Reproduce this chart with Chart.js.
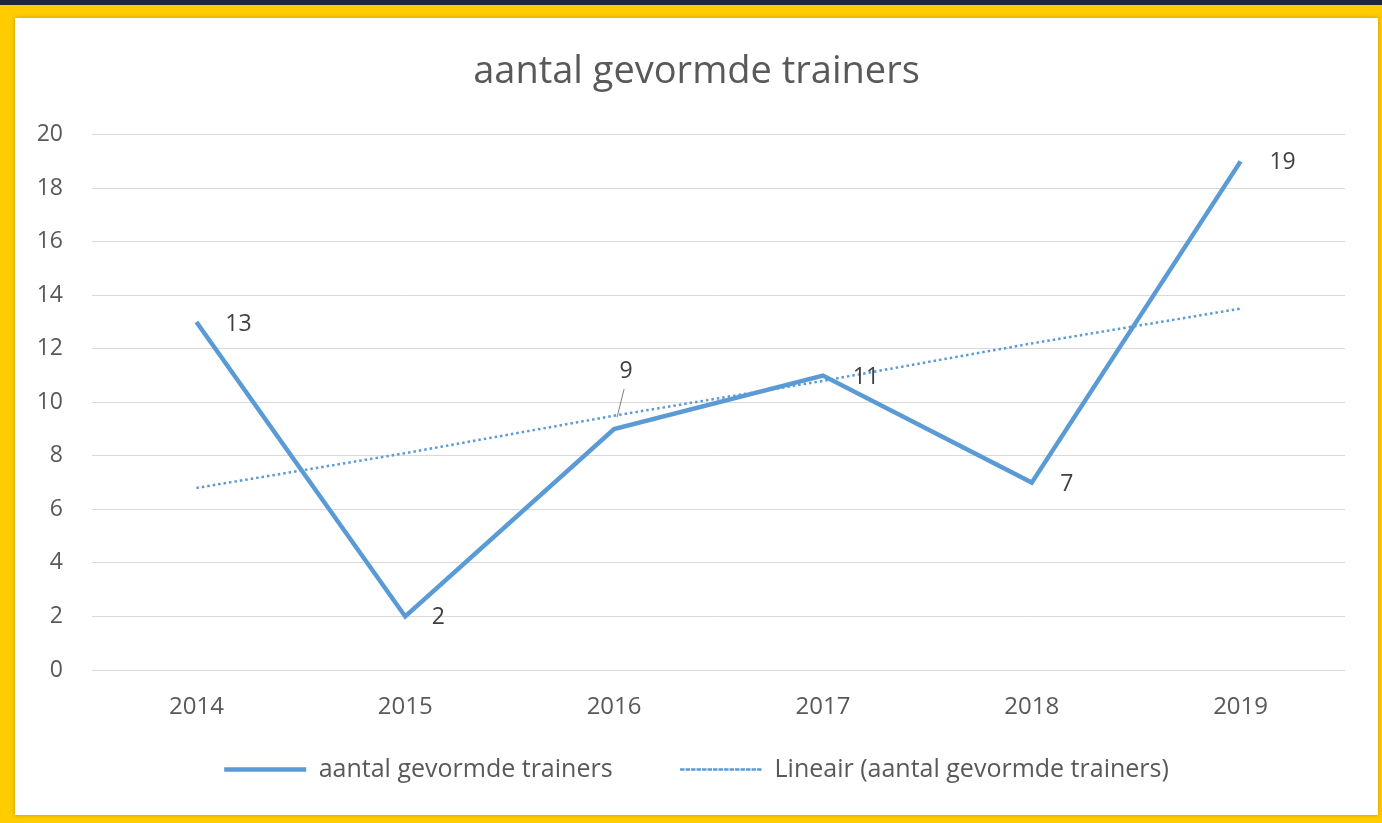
<!DOCTYPE html>
<html>
<head>
<meta charset="utf-8">
<script src="https://cdn.jsdelivr.net/npm/chart.js@4.4.1/dist/chart.umd.min.js"></script>
<style>
  html, body { margin: 0; padding: 0; }
  body { width: 1382px; height: 823px; background: #ffcc00; position: relative; overflow: hidden; }
  #topbar { position: absolute; left: 0; top: 0; width: 1382px; height: 5px; background: #1f2540; }
  #box { position: absolute; left: 15px; top: 18px; width: 1363px; height: 797px; background: #fff;
         box-shadow: 0 0 4px rgba(0,0,0,0.25); }
  canvas { display: block; }
</style>
</head>
<body>
<div id="topbar"></div>
<div id="box"><canvas id="trainerChart" width="1363" height="797"></canvas></div>
<script>
// chart data
var years = ['2014', '2015', '2016', '2017', '2018', '2019'];
var trainers = [13, 2, 9, 11, 7, 19];
var trendValues = [6.8, 8.1, 9.5, 10.8, 12.2, 13.5];
var yTicks = [0, 2, 4, 6, 8, 10, 12, 14, 16, 18, 20];

var lineBlue = '#5b9bd5';
var textGrey = '#595959';
var fontName = '"Open Sans", sans-serif';

// label offsets next to each point (dx, dy in px)
var labelOffsets = [[42, 2], [33, 1], [12, -58], [43, 2], [35, 2], [42, 1]];

// draws the value labels next to the points
var valueLabels = {
    id: 'valueLabels',
    afterDatasetsDraw: function(chart) {
        var ctx = chart.ctx;
        var meta = chart.getDatasetMeta(0);
        ctx.save();
        ctx.font = '23px ' + fontName;
        ctx.fillStyle = '#404040';
        ctx.textAlign = 'center';
        ctx.textBaseline = 'middle';
        meta.data.forEach(function(pt, i) {
            var off = labelOffsets[i];
            ctx.fillText(String(trainers[i]), pt.x + off[0], pt.y + off[1]);
            if (off[1] < -30) {
                // leader line for the label placed above
                ctx.strokeStyle = '#7f7f7f';
                ctx.lineWidth = 1;
                ctx.beginPath();
                ctx.moveTo(pt.x + 3, pt.y - 12);
                ctx.lineTo(pt.x + off[0] - 2, pt.y + off[1] + 18);
                ctx.stroke();
            }
        });
        ctx.restore();
    }
};

var ctx = document.getElementById('trainerChart').getContext('2d');
var trainerChart = new Chart(ctx, {
    type: 'line',
    data: {
        labels: years,
        datasets: [{
            label: 'aantal gevormde trainers',
            data: trainers,
            borderColor: lineBlue,
            backgroundColor: lineBlue,
            borderWidth: 4.5,
            pointRadius: 0,
            tension: 0,
            fill: false
        }, {
            label: 'Lineair (aantal gevormde trainers)',
            data: trendValues,
            borderColor: lineBlue,
            backgroundColor: lineBlue,
            borderWidth: 2.5,
            borderDash: [2.5, 3],
            pointRadius: 0,
            tension: 0,
            fill: false
        }]
    },
    options: {
        responsive: false,
        animation: false,
        layout: { padding: { top: 21, right: 17, bottom: 23, left: 17 } },
        plugins: {
            title: {
                display: true,
                text: 'aantal gevormde trainers',
                color: textGrey,
                font: { family: fontName, size: 38, weight: 'normal' },
                padding: { top: 10, bottom: 40 }
            },
            legend: {
                position: 'bottom',
                labels: {
                    boxWidth: 82,
                    boxHeight: 0,
                    color: textGrey,
                    font: { family: fontName, size: 25 },
                    padding: 35,
                    generateLabels: function(chart) {
                        var items = Chart.defaults.plugins.legend.labels.generateLabels(chart);
                        // extra gap after the first entry, like the original
                        items[0].text = items[0].text + '     ';
                        return items;
                    }
                }
            },
            tooltip: { enabled: false }
        },
        scales: {
            x: {
                offset: true,
                grid: { display: false },
                border: { display: false },
                ticks: { color: textGrey, font: { family: fontName, size: 24 }, padding: 15 },
                afterFit: function(scale) { scale.height = 52; }
            },
            y: {
                min: 0,
                max: 20,
                afterBuildTicks: function(scale) {
                    scale.ticks = yTicks.map(function(v) { return { value: v }; });
                },
                grid: { color: '#d9d9d9', lineWidth: 1, drawTicks: false },
                border: { display: false },
                ticks: { color: textGrey, font: { family: fontName, size: 23 }, padding: 29 },
                afterFit: function(scale) { scale.width = 60; }
            },
            // empty right-hand spacer so the plot ends where the original does
            yRight: {
                position: 'right',
                grid: { display: false },
                border: { display: false },
                ticks: { display: false },
                afterFit: function(scale) { scale.width = 16; }
            }
        }
    },
    plugins: [valueLabels]
});
</script>
</body>
</html>
